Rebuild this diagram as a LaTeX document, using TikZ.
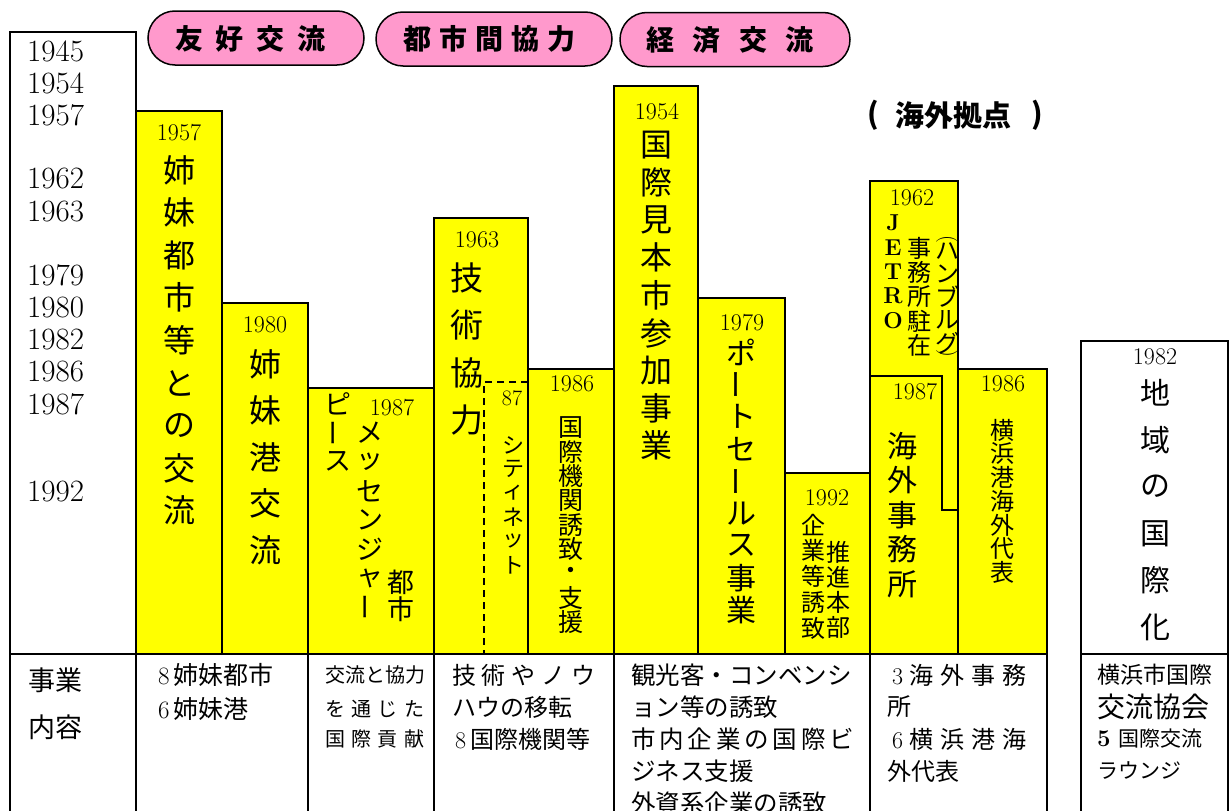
\documentclass[tikz,border=0pt]{standalone}
\usepackage{fontspec}
\usepackage{graphicx}
\newfontfamily\cjk{Noto Sans CJK JP}
\usetikzlibrary{shapes.misc}
\definecolor{pinkfill}{RGB}{255,153,204}
\definecolor{ybox}{RGB}{255,255,0}
\newcommand\fs[1]{\fontsize{#1}{#1}\selectfont}
\newcommand\vbar{\rotatebox{90}{ー}}
\newcommand\vcol[6][]{\foreach \vch [count=\i] in {#6}{\node[vt,#1] (#2-\i) at (#3,{#4+(\i-1)*#5}) {\vch};}}
\newcommand\hrow[6][]{\foreach \vch [count=\i] in {#6}{\node[ht,#1] (#2-\i) at ({#3+(\i-1)*#4},#5) {\vch};}}
\begin{document}
\begin{tikzpicture}[x=1pt,y=-1pt,
  yb/.style={fill=ybox,draw=black,line width=1.5pt},
  ln/.style={draw=black,line width=1.5pt},
  vt/.style={inner sep=0,font=\fs{24}\cjk},
  ht/.style={inner sep=0,font=\fs{28}\cjk\bfseries},
  yr/.style={inner sep=0,font=\fs{24}},
  ly/.style={inner sep=0,anchor=west,font=\fs{31}},
  tt/.style={inner sep=0,anchor=west,font=\fs{24}\cjk},
  pill/.style={rounded rectangle,draw=black,line width=1.5pt,fill=pinkfill,inner sep=0,minimum height=54pt}]
\useasboundingbox (0,0) rectangle (1229,811);
\fill[white] (0,0) rectangle (1229,811);

% pills
\node[pill,minimum width=216pt] (p1) at (256,38) {};
\node[pill,minimum width=236pt] (p2) at (494,39) {};
\node[pill,minimum width=230pt] (p3) at (735,39.5) {};
\hrow{p1t}{189}{40.7}{39}{友,好,交,流}
\hrow{p2t}{417}{36.2}{39}{都,市,間,協,力}
\hrow{p3t}{660}{46.5}{40}{経,済,交,流}

% overseas label
\node[ht,font=\fs{29}\cjk\bfseries] (ov1) at (873,115) {(};
\node[ht,font=\fs{29}\cjk\bfseries] (ov2) at (953,115) {海外拠点};
\node[ht,font=\fs{29}\cjk\bfseries] (ov3) at (1037,115) {)};

% yellow boxes
\draw[yb] (136,111) rectangle (222,654);
\draw[yb] (222,303) rectangle (308,654);
\draw[yb] (308,388) rectangle (434,654);
\draw[yb] (434,218) rectangle (528,654);
\draw[yb] (528,369) rectangle (614,654);
\draw[yb] (614,86) rectangle (698,654);
\draw[yb] (698,298) rectangle (785,654);
\draw[yb] (785,473) rectangle (870,654);
\draw[yb] (870,181) rectangle (958,654);
\draw[yb] (958,369) rectangle (1047,654);
\draw[ln] (870,376) -- (942,376) -- (942,510) -- (958,510);
\draw[line width=1.5pt,dash pattern=on 7pt off 5pt] (528,382) -- (484,382) -- (484,654) -- (528,654);

% frames
\draw[ln] (10,820) -- (10,32) -- (136,32) -- (136,820);
\draw[ln] (1081,820) -- (1081,341) -- (1228,341) -- (1228,820);
\draw[ln] (1081,654) -- (1228,654);
\draw[ln] (10,654) -- (1047,654);
\foreach \xx in {308,434,614,870,1047} \draw[ln] (\xx,654) -- (\xx,820);

% year column
\foreach \yy/\yt [count=\i] in {51/1945,83/1954,115/1957,179/1962,211/1963,275/1979,307/1980,339/1982,371/1986,404/1987,491/1992}
  \node[ly] (ly\i) at (27,\yy) {\yt};

% box texts
\node[yr] (y1) at (179,133) {1957};
\vcol[font=\fs{32}\cjk]{c1}{179}{170}{42.6}{姉,妹,都,市,等,と,の,交,流}
\node[yr] (y2) at (265,325) {1980};
\vcol[font=\fs{32}\cjk]{c2}{265}{364}{46.5}{姉,妹,港,交,流}
\node[yr] (y3) at (392,408) {1987};
\vcol[font=\fs{27}\cjk]{c3a}{338}{404}{28.5}{ピ,\vbar,ス}
\vcol[font=\fs{27}\cjk]{c3b}{370}{433}{29}{メ,ッ,セ,ン,ジ,ャ,\vbar}
\vcol[font=\fs{27}\cjk]{c3c}{401}{582}{27}{都,市}
\node[yr] (y4) at (477,240) {1963};
\vcol[font=\fs{33}\cjk]{c4}{467}{278}{47.3}{技,術,協,力}
\node[yr,font=\fs{22}] (y5) at (512,398) {87};
\vcol[font=\fs{22}\cjk]{c5}{513}{445}{24}{シ,テ,ィ,ネ,ッ,ト}
\node[yr] (y6) at (572,384) {1986};
\vcol[font=\fs{25}\cjk]{c6}{571}{428}{24.25}{国,際,機,関,誘,致,・,支,援}
\node[yr] (y7) at (657,112) {1954};
\vcol[font=\fs{32}\cjk]{c7}{656}{145}{37.6}{国,際,見,本,市,参,加,事,業}
\node[yr] (y8) at (742,323) {1979};
\vcol[font=\fs{30}\cjk]{c8}{741}{352}{32.25}{ポ,\vbar,ト,セ,\vbar,ル,ス,事,業}
\node[yr] (y9) at (827,498) {1992};
\vcol{c9a}{813}{525}{25.75}{企,業,等,誘,致}
\vcol{c9b}{838}{552}{25.3}{推,進,本,部}
\node[yr] (y10) at (912,198) {1962};
\vcol[font=\fs{23}\bfseries]{c10a}{893}{223}{24.3}{J,E,T,R,O}
\vcol{c10b}{919}{248}{24.3}{事,務,所,駐,在}
\node[vt,font=\fs{22}] (c10p1) at (947,239) {\rotatebox{-90}{(}};
\vcol{c10c}{947}{251}{23}{ハ,ン,ブ,ル,グ}
\node[vt,font=\fs{22}] (c10p2) at (947,353) {\rotatebox{-90}{)}};
\node[yr] (y11) at (915,392) {1987};
\vcol[font=\fs{30}\cjk]{c11}{902}{446}{34.5}{海,外,事,務,所}
\node[yr] (y12) at (1003,384) {1986};
\vcol{c12}{1002}{430}{23.8}{横,浜,港,海,外,代,表}
\node[yr] (y13) at (1155,357) {1982};
\vcol[font=\fs{30}\cjk]{c13}{1155}{393}{46.8}{地,域,の,国,際,化}

% table texts
\node[tt,font=\fs{27}\cjk] (r1) at (28,680) {事業};
\node[tt,font=\fs{27}\cjk] (r2) at (28,727) {内容};
\node[tt,font=\fs{25}\cjk] (a1) at (158,675) {{\rmfamily 8}\,姉妹都市};
\node[tt,font=\fs{25}\cjk] (a2) at (158,709) {{\rmfamily 6}\,姉妹港};
\node[tt,font=\fs{20}\cjk] (b1) at (325,675) {\makebox[99pt][s]{交\hfil 流\hfil と\hfil 協\hfil 力}};
\node[tt,font=\fs{20}\cjk] (b2) at (325,709) {\makebox[99pt][s]{を\hfil 通\hfil じ\hfil た}};
\node[tt,font=\fs{20}\cjk] (b3) at (325,739) {\makebox[99pt][s]{国\hfil 際\hfil 貢\hfil 献}};
\node[tt] (d1) at (452,675) {\makebox[143pt][s]{技\hfil 術\hfil や\hfil ノ\hfil ウ}};
\node[tt] (d2) at (452,707) {ハウの移転};
\node[tt] (d3) at (455,739) {{\rmfamily 8}\,国際機関等};
\node[tt,font=\fs{24.5}\cjk] (e1) at (631,675) {観光客・コンベンシ};
\node[tt,font=\fs{24.5}\cjk] (e2) at (631,707) {ョン等の誘致};
\node[tt,font=\fs{24.5}\cjk] (e3) at (631,739) {\makebox[223pt][s]{市\hfil 内\hfil 企\hfil 業\hfil の\hfil 国\hfil 際\hfil ビ}};
\node[tt,font=\fs{24.5}\cjk] (e4) at (631,771) {ジネス支援};
\node[tt,font=\fs{24.5}\cjk] (e5) at (631,803) {外資系企業の誘致};
\node[tt] (f1) at (892,675) {\makebox[134pt][s]{{\rmfamily 3}\hfil 海\hfil 外\hfil 事\hfil 務}};
\node[tt] (f2) at (887,707) {所};
\node[tt] (f3) at (892,739) {\makebox[134pt][s]{{\rmfamily 6}\hfil 横\hfil 浜\hfil 港\hfil 海}};
\node[tt] (f4) at (887,771) {外代表};
\node[tt,font=\fs{23}\cjk] (g1) at (1097,675) {横浜市国際};
\node[tt,font=\fs{28}\cjk] (g2) at (1097,707) {交流協会};
\node[tt,font=\fs{21}\cjk] (g3) at (1097,739) {{\fs{24}\rmfamily\bfseries 5}\hspace{8pt}国際交流};
\node[tt,font=\fs{21}\cjk] (g4) at (1097,771) {ラウンジ};
\end{tikzpicture}
\end{document}
